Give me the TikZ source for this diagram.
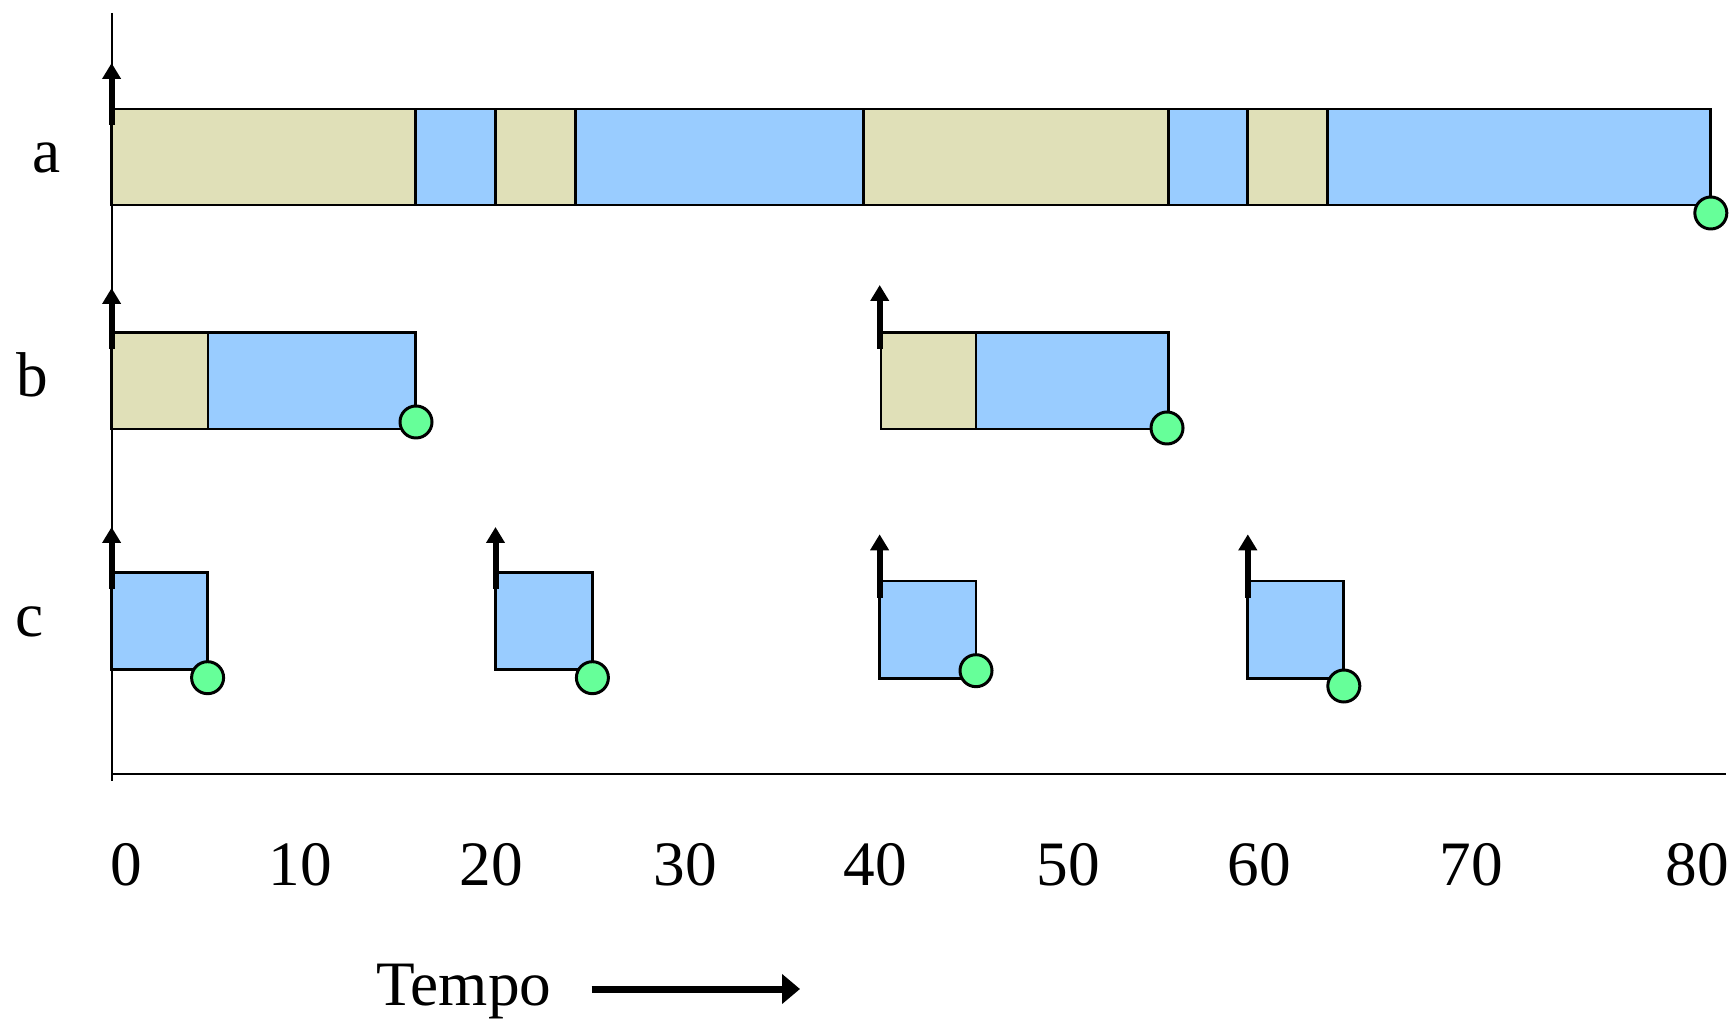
\documentclass[tikz,border=0pt]{standalone}
\usepackage{fontspec}
\setmainfont{Liberation Serif}
\usetikzlibrary{arrows.meta}
\definecolor{tanfill}{RGB}{224,224,184}
\definecolor{bluefill}{RGB}{153,204,255}
\definecolor{donefill}{RGB}{102,255,153}

\begin{document}
\begin{tikzpicture}[font=\fontsize{18}{22}\selectfont,every node/.style={inner sep=0pt},
  tanbar/.style={draw=black,fill=tanfill,line width=0.8pt},
  bluebar/.style={draw=black,fill=bluefill,line width=0.8pt},
  done/.style={draw=black,fill=donefill,line width=0.85pt},
  rel/.style={line width=0.06cm,-{Triangle[width=0.18cm,length=0.16cm]}}]
  \useasboundingbox (0,0) rectangle (17.33,10.19);
  % axes
  \draw[line width=0.6pt] (1.116,10.06)--(1.116,2.38);
  \draw[line width=0.6pt] (1.116,2.45)--(17.26,2.45);
  % row labels
  \node[anchor=base] (la) at (0.47,8.46) {a};
  \node[anchor=base] (lb) at (0.32,6.22) {b};
  \node[anchor=base] (lc) at (0.30,3.82) {c};
  % task a
  \draw[tanbar] (1.116,8.14) rectangle (4.156,9.10); \draw[bluebar] (4.156,8.14) rectangle (4.951,9.10);
  \draw[tanbar] (4.951,8.14) rectangle (5.758,9.10); \draw[bluebar] (5.758,8.14) rectangle (8.631,9.10);
  \draw[tanbar] (8.631,8.14) rectangle (11.681,9.10); \draw[bluebar] (11.681,8.14) rectangle (12.477,9.10);
  \draw[tanbar] (12.477,8.14) rectangle (13.273,9.10); \draw[bluebar] (13.273,8.14) rectangle (17.108,9.10);
  \draw[rel] (1.116,8.94)--(1.116,9.56);
  \draw[done] (17.108,8.06) circle (0.16);
  % task b
  \draw[tanbar] (1.116,5.90) rectangle (2.08,6.865); \draw[bluebar] (2.08,5.90) rectangle (4.157,6.865);
  \draw[tanbar] (8.81,5.90) rectangle (9.759,6.865); \draw[bluebar] (9.759,5.90) rectangle (11.681,6.865);
  \draw[rel] (1.116,6.70)--(1.116,7.31); \draw[rel] (8.797,6.70)--(8.797,7.34);
  \draw[done] (4.16,5.97) circle (0.16); \draw[done] (11.67,5.91) circle (0.16);
  % task c
  \draw[bluebar] (1.116,3.497) rectangle (2.076,4.463); \draw[bluebar] (4.955,3.497) rectangle (5.924,4.463);
  \draw[bluebar] (8.796,3.407) rectangle (9.76,4.38); \draw[bluebar] (12.478,3.407) rectangle (13.438,4.38);
  \draw[rel] (1.116,4.30)--(1.116,4.92); \draw[rel] (4.955,4.30)--(4.955,4.92);
  \draw[rel] (8.796,4.213)--(8.796,4.847); \draw[rel] (12.478,4.213)--(12.478,4.847);
  \draw[done] (2.076,3.413) circle (0.16); \draw[done] (5.924,3.413) circle (0.16);
  \draw[done] (9.76,3.483) circle (0.16); \draw[done] (13.438,3.33) circle (0.16);
  % time scale
  \node[anchor=base] (t0) at (1.26,1.34) {0}; \node[anchor=base] (t10) at (3.00,1.34) {10};
  \node[anchor=base] (t20) at (4.91,1.34) {20}; \node[anchor=base] (t30) at (6.85,1.34) {30};
  \node[anchor=base] (t40) at (8.75,1.34) {40}; \node[anchor=base] (t50) at (10.68,1.34) {50};
  \node[anchor=base] (t60) at (12.59,1.34) {60}; \node[anchor=base] (t70) at (14.71,1.34) {70};
  \node[anchor=base] (t80) at (16.97,1.34) {80};
  \node[anchor=base] (tempo) at (4.64,0.14) {Tempo};
  \coordinate (tend) at (8.00,0.30);
  \draw[line width=0.07cm,-{Triangle[width=0.29cm,length=0.18cm]}] (5.917,0.30)--(tend);
\end{tikzpicture}
\end{document}
